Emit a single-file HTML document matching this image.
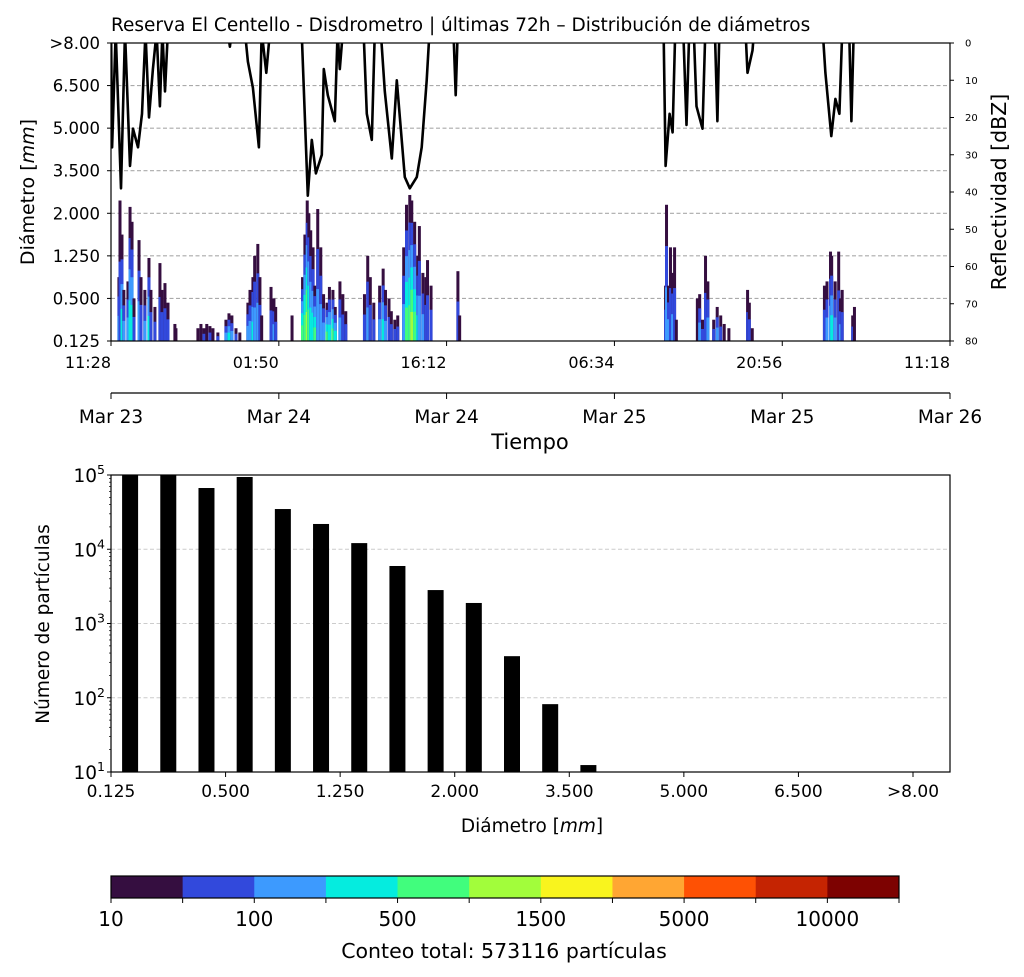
<!DOCTYPE html>
<html><head><meta charset="utf-8"><style>
body{margin:0;background:#fff}
svg{display:block;font-family:"DejaVu Sans","Liberation Sans",sans-serif}
</style></head><body>
<svg id="svg" width="1024" height="977" viewBox="0 0 1024 977" xmlns="http://www.w3.org/2000/svg">
<rect width="1024" height="977" fill="#fff"/>
<text x="111" y="31" font-size="18.5">Reserva El Centello - Disdrometro | últimas 72h – Distribución de diámetros</text>
<g id="top"></g>
<g id="bot"></g>
<g id="cb"></g>
</svg>
<script>
const NS="http://www.w3.org/2000/svg";
function el(p,t,a,txt){const e=document.createElementNS(NS,t);for(const k in a)e.setAttribute(k,a[k]);if(txt!==undefined)e.textContent=txt;p.appendChild(e);return e;}

// ---- data ----
const diamLabels=["0.125","0.500","1.250","2.000","3.500","5.000","6.500",">8.00"];
const timeTickHours=[0,14.37,28.73,43.1,57.47,71.83];
const timeTickLabels=["11:28","01:50","16:12","06:34","20:56","11:18"];
const dateTickLabels=["Mar 23","Mar 24","Mar 24","Mar 25","Mar 25","Mar 26"];
const dbzTicks=[0,10,20,30,40,50,60,70,80];
// heatmap columns: time (h), top (diameter-bin units), max colour level
const colTime=[0.68,0.77,0.94,1.1,1.45,1.63,1.8,1.97,2.4,2.57,2.9,3.25,3.42,3.76,4.19,4.36,4.62,4.88,5.47,5.56,
7.44,7.7,7.96,8.2,8.47,8.73,9.15,9.84,10.1,10.35,10.7,11.03,
11.72,11.9,12.15,12.3,12.57,12.75,12.9,13.7,13.95,14.1,15.5,
16.4,16.6,16.8,16.94,17.1,17.3,17.45,17.7,17.96,18.2,18.5,18.7,19.0,19.2,19.6,19.85,20.1,
21.7,21.98,22.2,22.5,23.0,23.3,23.5,23.8,24.0,24.3,24.55,
25.06,25.3,25.58,25.75,26.0,26.26,26.4,26.7,26.95,27.1,27.4,29.7,29.85,
47.48,47.56,47.73,47.9,48.08,48.25,48.4,
50.2,50.4,50.64,50.9,51.1,51.6,51.9,52.2,52.5,52.9,54.5,54.65,54.9,
61.08,61.3,61.6,61.7,62.0,62.3,62.45,62.6,63.5,63.65];
const colTop=[1.5,3.3,2.5,1.2,1.4,3.15,2.8,1.0,2.37,1.5,1.2,1.95,1.2,0.8,1.83,1.2,1.36,0.9,0.4,0.3,
0.3,0.4,0.3,0.4,0.35,0.3,0.2,0.5,0.65,0.6,0.3,0.2,
0.9,1.2,1.5,2.0,2.28,1.5,0.6,1.27,1.0,0.8,0.6,
1.5,2.5,3.3,3.0,2.6,2.2,1.3,3.1,2.2,1.1,0.9,1.27,1.2,0.8,1.4,1.1,0.7,
1.1,2.0,1.5,0.9,1.3,1.7,1.2,1.0,0.7,0.5,0.6,
2.2,3.2,3.43,3.3,2.8,2.0,2.7,1.6,1.5,1.9,1.3,1.64,0.6,
1.3,3.2,1.3,2.2,1.6,2.2,0.5,
1.0,1.1,0.5,2.0,1.4,0.5,0.8,0.6,0.4,0.3,1.2,0.9,0.3,
1.3,1.4,2.1,2.0,1.4,2.1,1.0,1.2,0.6,0.8];
const colLevel=[2,1,3,2,2,3,3,1,2,1,2,3,1,1,1,1,1,1,0,0,
0,0,1,0,1,0,1,2,3,2,1,0,
2,2,3,2,2,1,0,1,2,1,0,
4,4,5,4,3,3,4,2,2,2,4,3,4,3,2,1,1,
1,2,1,1,2,3,2,1,1,1,1,
2,4,4,5,4,3,2,2,1,1,1,1,0,
1,2,2,1,2,1,0,
0,2,1,1,2,1,2,1,0,0,1,1,0,
1,2,2,3,2,1,2,1,1,0];
// reflectivity line (h, dBZ); negative = below plotted range (no rain)
const refTime=[0,0.09,0.4,0.86,1.2,1.63,1.88,2.31,2.65,2.95,3.25,3.59,3.9,4.19,4.4,4.62,4.9,9.9,10.18,10.4,11.4,11.72,12.15,12.66,12.9,13.3,13.6,13.9,
16.3,16.85,17.19,17.54,18.05,18.22,18.56,19.16,19.4,19.59,19.9,21.6,21.9,22.33,22.6,23.1,23.44,24.04,24.47,25.15,25.58,26.18,26.6,27.03,27.3,29.3,29.51,29.7,
47.3,47.48,47.82,48.08,48.3,49.0,49.27,49.5,49.9,50.13,50.64,50.9,51.7,51.92,52.1,54.3,54.49,54.92,55.1,
60.9,61.16,61.67,62.02,62.36,62.6,63.2,63.39,63.6,71.83];
const refDbz=[-5,28,-3,39,-3,33,23,28,19,-3,20,7,-3,17,-3,13,-5,-5,1,-5,-5,5,12,28,-3,8,-3,-5,
-5,41,26,35,30,7,14,21,-3,7,-5,-5,19,26,-5,-3,13,31,10,36,39,36,28,10,-5,-5,14,-5,
-5,33,19,24,-3,-3,22,-3,-3,17,23,-5,-3,21,-5,-5,8,2,-5,
-5,8,25,15,19,-3,-3,21,-5,-5];
// histogram
const histLabels=["0.125","0.500","1.250","2.000","3.500","5.000","6.500",">8.00"];
const histCounts=[150000,130000,66800,94000,34800,21900,12100,5950,2820,1890,363,82,12.4,0,0,0,0,0,0,0,0,0];
// colourbar
const cbColors=["#350e40","#3249dc","#3d9afe","#05ecdf","#41fd7d","#a2fd3b","#f9f41e","#ffa633","#fe5104","#c52402","#7d0201"];
const cbLabels=["10","","100","","500","","1500","","5000","","10000",""];

// ---- top chart ----
const T=document.getElementById('top');
const L=111,R=950,TT=43,TB=341;
const xT=h=>L+(h-0)/(71.83)*(R-L);
const yD=v=>TB-v/7*(TB-TT);
const yZ=z=>TT+z/80*(TB-TT);
el(T,'clipPath',{id:'cp'});el(document.getElementById('cp'),'rect',{x:L,y:TT,width:R-L,height:TB-TT});
diamLabels.forEach((lab,i)=>{
  const y=yD(i);
  if(i>0&&i<7){const g=el(T,'line',{x1:L,x2:R,y1:y,y2:y,stroke:'#aaa','stroke-width':1.1,'stroke-dasharray':'4,2.5'});}
  el(T,'line',{x1:L-4,x2:L,y1:y,y2:y,stroke:'#000'});
  const t=el(T,'text',{x:L-11,y:y+6,'text-anchor':'end','font-size':16.5},lab);
  
});
const hm=el(T,'g',{'clip-path':'url(#cp)'});

colTime.forEach((h,i)=>{
  const top=colTop[i],lv=colLevel[i];
  for(let k=0;k<=lv;k++){
    const hh=top*(1-k/(lv+1.3));
    const r=el(hm,'rect',{x:xT(h)-1.5,y:yD(hh),width:3,height:TB-yD(hh),fill:cbColors[k]});
    
  }
});
let pts=refTime.map((h,i)=>xT(h).toFixed(1)+','+yZ(refDbz[i]).toFixed(1)).join(' ');
const ln=el(T,'polyline',{points:pts,fill:'none',stroke:'#000','stroke-width':2.6,'stroke-linejoin':'round','clip-path':'url(#cp)'});

el(T,'rect',{x:L,y:TT,width:R-L,height:TB-TT,fill:'none',stroke:'#000','stroke-width':1.2});
dbzTicks.forEach(z=>{const y=yZ(z);el(T,'line',{x1:R,x2:R+4,y1:y,y2:y,stroke:'#000'});
  const t=el(T,'text',{x:R+15,y:y+3.5,'font-size':10},z);});
timeTickHours.forEach((h,i)=>{const x=xT(h);
  el(T,'line',{x1:x,x2:x,y1:TB,y2:TB+5,stroke:'#000'});
  const t=el(T,'text',{x:x,y:368,'text-anchor':'end','font-size':16},timeTickLabels[i]);
  el(T,'line',{x1:x,x2:x,y1:393,y2:399,stroke:'#000'});
  const d=el(T,'text',{x:x,y:423,'text-anchor':'middle','font-size':18.5},dateTickLabels[i]);
});
el(T,'line',{x1:L,x2:R,y1:393,y2:393,stroke:'#000','stroke-width':1.2});
let a=el(T,'text',{x:530,y:449,'text-anchor':'middle','font-size':21},'Tiempo');
a=el(T,'text',{transform:'translate(34,192) rotate(-90)','text-anchor':'middle','font-size':19});a.innerHTML='Diámetro [<tspan font-style="italic">mm</tspan>]';
a=el(T,'text',{transform:'translate(1006,192) rotate(-90)','text-anchor':'middle','font-size':20.5},'Reflectividad [dBZ]');

// ---- histogram ----
const B=document.getElementById('bot');
const BT=475,BB=772,step=(913-111)/21;
const yL=v=>BB-(Math.log10(v)-1)/4*(BB-BT);
el(B,'clipPath',{id:'cp2'});el(document.getElementById('cp2'),'rect',{x:L,y:BT,width:R-L,height:BB-BT});
[2,3,4].forEach(p=>{const g=el(B,'line',{x1:L,x2:R,y1:yL(10**p),y2:yL(10**p),stroke:'#ccc','stroke-width':1.1,'stroke-dasharray':'4,2.5'});});
const bg=el(B,'g',{'clip-path':'url(#cp2)'});
histCounts.forEach((c,i)=>{if(c<=10)return;const x=L+step*(i+0.5);const y=yL(c);
  const r=el(bg,'rect',{x:x-8,y:y,width:16,height:BB-y,fill:'#000'});});
el(B,'rect',{x:L,y:BT,width:R-L,height:BB-BT,fill:'none',stroke:'#000','stroke-width':1.2});
for(let p=1;p<=5;p++){const y=yL(10**p);el(B,'line',{x1:L-4,x2:L,y1:y,y2:y,stroke:'#000'});
  const t=el(B,'text',{x:L-14,y:y+7,'text-anchor':'end','font-size':18.5},'10');
  el(B,'text',{x:L-14,y:y-1,'font-size':12.5},p);
  if(p<5)for(let m=2;m<10;m++){const ym=yL(m*10**p);el(B,'line',{x1:L-2,x2:L,y1:ym,y2:ym,stroke:'#000','stroke-width':0.7});}}
histLabels.forEach((lab,i)=>{const x=L+step*3*i;el(B,'line',{x1:x,x2:x,y1:BB,y2:BB+5,stroke:'#000'});
  const t=el(B,'text',{x:x,y:797,'text-anchor':'middle','font-size':17},lab);});
a=el(B,'text',{x:532,y:832,'text-anchor':'middle','font-size':18.5});a.innerHTML='Diámetro [<tspan font-style="italic">mm</tspan>]';
a=el(B,'text',{transform:'translate(49,624) rotate(-90)','text-anchor':'middle','font-size':18.5},'Número de partículas');

// ---- colorbar ----
const C=document.getElementById('cb');
const cw=(899-111)/cbColors.length;
cbColors.forEach((c,i)=>{const r=el(C,'rect',{x:111+i*cw,y:876,width:cw+0.5,height:22,fill:c});});
el(C,'rect',{x:111,y:876,width:788,height:22,fill:'none',stroke:'#000','stroke-width':1.2});
cbLabels.forEach((lab,i)=>{const x=111+i*cw;el(C,'line',{x1:x,x2:x,y1:898,y2:903,stroke:'#000'});
  if(lab){const t=el(C,'text',{x:x,y:926,'text-anchor':'middle','font-size':20},lab);}});
a=el(C,'text',{x:504,y:958,'text-anchor':'middle','font-size':20.5},'Conteo total: 573116 partículas');
</script>
</body></html>
